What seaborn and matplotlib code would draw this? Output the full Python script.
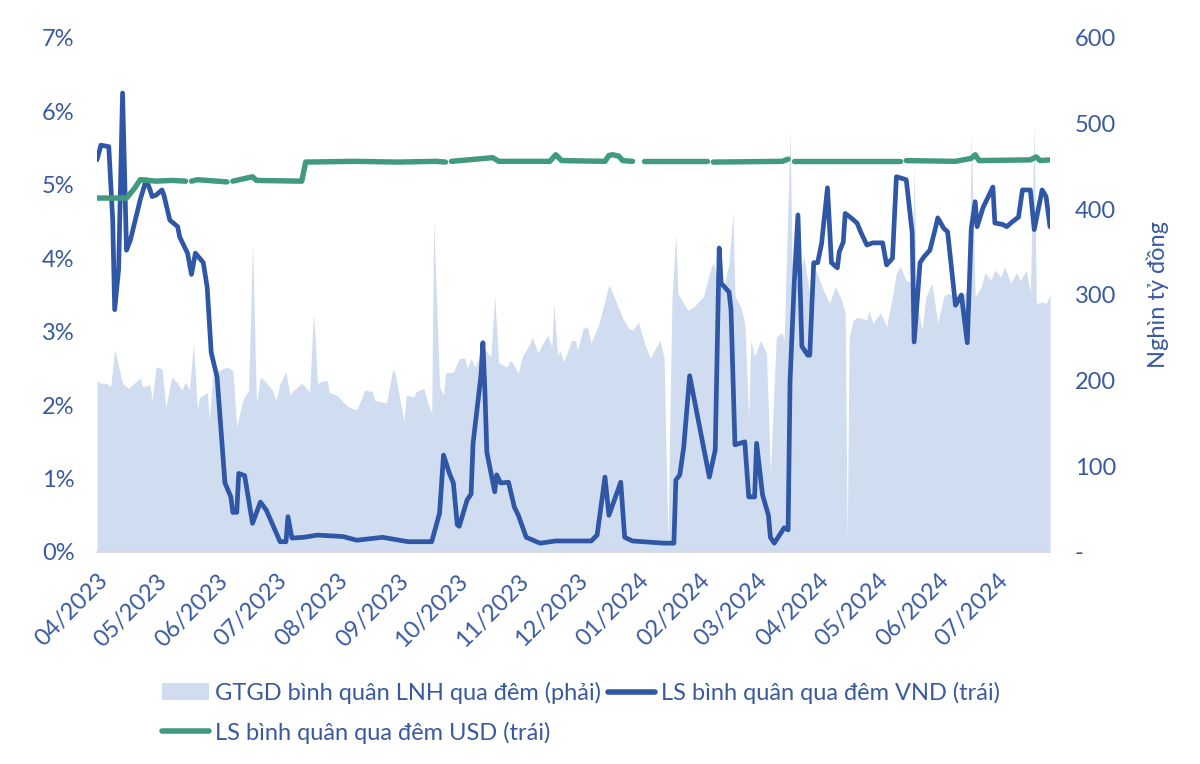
import matplotlib

matplotlib.use("Agg")
import matplotlib.dates as mdates
import matplotlib.pyplot as plt
import pandas as pd
import seaborn as sns
from matplotlib.lines import Line2D
from matplotlib.patches import Patch
from matplotlib.ticker import FuncFormatter, MultipleLocator

# --- LS bình quân qua đêm VND (%) ---
vnd_dates = [
    "2023-04-01", "2023-04-03", "2023-04-07", "2023-04-09", "2023-04-10", "2023-04-12",
    "2023-04-14", "2023-04-16", "2023-04-18", "2023-04-23", "2023-04-26", "2023-04-28",
    "2023-04-29", "2023-05-01", "2023-05-04", "2023-05-05", "2023-05-08", "2023-05-12",
    "2023-05-13", "2023-05-17", "2023-05-19", "2023-05-21", "2023-05-25", "2023-05-27",
    "2023-05-29", "2023-06-01", "2023-06-05", "2023-06-08", "2023-06-09", "2023-06-11",
    "2023-06-12", "2023-06-15", "2023-06-19", "2023-06-23", "2023-06-26", "2023-07-03",
    "2023-07-06", "2023-07-07", "2023-07-09", "2023-07-15", "2023-07-22", "2023-08-04",
    "2023-08-11", "2023-08-24", "2023-09-06", "2023-09-18", "2023-09-22", "2023-09-24",
    "2023-09-27", "2023-09-29", "2023-10-01", "2023-10-02", "2023-10-06", "2023-10-08",
    "2023-10-09", "2023-10-13", "2023-10-14", "2023-10-15", "2023-10-16", "2023-10-20",
    "2023-10-21", "2023-10-23", "2023-10-27", "2023-10-30", "2023-11-01", "2023-11-05",
    "2023-11-12", "2023-11-20", "2023-12-08", "2023-12-11", "2023-12-15", "2023-12-17",
    "2023-12-23", "2023-12-25", "2023-12-29", "2024-01-14", "2024-01-19", "2024-01-20",
    "2024-01-22", "2024-01-24", "2024-01-27", "2024-02-06", "2024-02-09", "2024-02-11",
    "2024-02-12", "2024-02-16", "2024-02-17", "2024-02-19", "2024-02-24", "2024-02-26",
    "2024-02-29", "2024-03-01", "2024-03-04", "2024-03-07", "2024-03-08", "2024-03-10",
    "2024-03-15", "2024-03-17", "2024-03-18", "2024-03-20", "2024-03-22", "2024-03-24",
    "2024-03-27", "2024-03-28", "2024-03-30", "2024-04-01", "2024-04-03", "2024-04-06",
    "2024-04-08", "2024-04-11", "2024-04-12", "2024-04-14", "2024-04-15", "2024-04-18",
    "2024-04-21", "2024-04-23", "2024-04-26", "2024-04-29", "2024-05-04", "2024-05-06",
    "2024-05-09", "2024-05-11", "2024-05-16", "2024-05-19", "2024-05-20", "2024-05-23",
    "2024-05-25", "2024-05-28", "2024-05-31", "2024-06-01", "2024-06-04", "2024-06-06",
    "2024-06-10", "2024-06-13", "2024-06-16", "2024-06-18", "2024-06-20", "2024-06-21",
    "2024-06-24", "2024-06-29", "2024-06-30", "2024-07-04", "2024-07-06", "2024-07-09",
    "2024-07-12", "2024-07-14", "2024-07-18", "2024-07-20", "2024-07-22", "2024-07-24",
    "2024-07-26", "2024-07-28",
]
vnd_rates = [
    5.34, 5.54, 5.52, 4.52, 3.30, 3.85,
    6.25, 4.11, 4.25, 4.80, 5.07, 4.93,
    4.84, 4.86, 4.93, 4.86, 4.52, 4.43,
    4.29, 4.07, 3.78, 4.07, 3.94, 3.60,
    2.72, 2.38, 0.94, 0.75, 0.54, 0.54,
    1.07, 1.04, 0.39, 0.68, 0.57, 0.14,
    0.14, 0.48, 0.19, 0.20, 0.23, 0.21,
    0.16, 0.20, 0.14, 0.14, 0.53, 1.32,
    1.07, 0.94, 0.37, 0.35, 0.71, 0.79,
    1.48, 2.40, 2.85, 2.20, 1.36, 0.82,
    1.05, 0.94, 0.95, 0.61, 0.50, 0.20,
    0.12, 0.15, 0.15, 0.23, 1.02, 0.50,
    0.95, 0.20, 0.15, 0.12, 0.12, 0.98,
    1.05, 1.43, 2.40, 1.02, 1.39, 4.14,
    3.66, 3.54, 3.30, 1.46, 1.50, 0.75,
    0.75, 1.48, 0.78, 0.50, 0.20, 0.12,
    0.33, 0.30, 2.34, 3.60, 4.59, 2.80,
    2.68, 2.68, 3.94, 3.94, 4.20, 4.96,
    3.94, 3.87, 4.09, 4.22, 4.61, 4.55,
    4.48, 4.35, 4.18, 4.21, 4.21, 3.91,
    4.00, 5.11, 5.07, 4.35, 2.86, 3.94,
    4.02, 4.11, 4.43, 4.55, 4.41, 4.36,
    3.36, 3.50, 2.85, 4.40, 4.77, 4.43,
    4.69, 4.97, 4.48, 4.46, 4.43, 4.50,
    4.56, 4.93, 4.93, 4.39, 4.66, 4.93,
    4.84, 4.43,
]

# --- LS bình quân qua đêm USD (%), None = ngày không có số liệu ---
usd_dates = [
    "2023-04-01", "2023-04-16", "2023-04-20", "2023-04-23", "2023-05-01", "2023-05-09",
    "2023-05-16", "2023-05-17", "2023-05-19", "2023-05-22", "2023-06-06", "2023-06-07",
    "2023-06-09", "2023-06-19", "2023-06-21", "2023-07-14", "2023-07-16", "2023-08-10",
    "2023-09-01", "2023-09-20", "2023-09-25", "2023-09-26", "2023-09-28", "2023-10-19",
    "2023-10-22", "2023-11-17", "2023-11-20", "2023-11-23", "2023-12-15", "2023-12-17",
    "2023-12-19", "2023-12-22", "2023-12-24", "2023-12-29", "2024-01-02", "2024-01-04",
    "2024-02-05", "2024-02-06", "2024-02-08", "2024-03-14", "2024-03-17", "2024-03-18",
    "2024-03-20", "2024-05-13", "2024-05-14", "2024-05-16", "2024-06-10", "2024-06-18",
    "2024-06-20", "2024-06-22", "2024-07-18", "2024-07-21", "2024-07-23", "2024-07-28",
]
usd_rates = [
    4.82, 4.82, 4.95, 5.07, 5.05, 5.06,
    5.05, None, 5.05, 5.07, 5.04, None,
    5.05, 5.11, 5.06, 5.05, 5.31, 5.32,
    5.31, 5.32, 5.31, None, 5.32, 5.37,
    5.32, 5.32, 5.41, 5.33, 5.32, 5.40,
    5.41, 5.39, 5.33, 5.32, None, 5.32,
    5.32, None, 5.31, 5.32, 5.35, None,
    5.32, 5.32, None, 5.33, 5.32, 5.36,
    5.41, 5.33, 5.34, 5.38, 5.33, 5.34,
]

# --- GTGD bình quân LNH qua đêm (nghìn tỷ đồng) ---
gtgd_dates = [
    "2023-04-01", "2023-04-03", "2023-04-06", "2023-04-08", "2023-04-10", "2023-04-14",
    "2023-04-17", "2023-04-23", "2023-04-24", "2023-04-28", "2023-04-29", "2023-05-01",
    "2023-05-04", "2023-05-06", "2023-05-09", "2023-05-12", "2023-05-14", "2023-05-16",
    "2023-05-18", "2023-05-20", "2023-05-22", "2023-05-23", "2023-05-27", "2023-05-28",
    "2023-05-30", "2023-06-02", "2023-06-06", "2023-06-09", "2023-06-11", "2023-06-14",
    "2023-06-17", "2023-06-19", "2023-06-21", "2023-06-23", "2023-06-25", "2023-06-29",
    "2023-07-01", "2023-07-03", "2023-07-06", "2023-07-08", "2023-07-09", "2023-07-14",
    "2023-07-18", "2023-07-20", "2023-07-22", "2023-07-25", "2023-07-27", "2023-07-28",
    "2023-08-01", "2023-08-04", "2023-08-07", "2023-08-11", "2023-08-14", "2023-08-15",
    "2023-08-19", "2023-08-20", "2023-08-24", "2023-08-26", "2023-08-29", "2023-08-30",
    "2023-09-01", "2023-09-04", "2023-09-05", "2023-09-09", "2023-09-10", "2023-09-14",
    "2023-09-16", "2023-09-18", "2023-09-19", "2023-09-22", "2023-09-24", "2023-09-25",
    "2023-09-29", "2023-10-02", "2023-10-05", "2023-10-06", "2023-10-08", "2023-10-10",
    "2023-10-13", "2023-10-15", "2023-10-18", "2023-10-20", "2023-10-22", "2023-10-26",
    "2023-10-28", "2023-10-29", "2023-11-01", "2023-11-03", "2023-11-07", "2023-11-08",
    "2023-11-11", "2023-11-13", "2023-11-16", "2023-11-18", "2023-11-19", "2023-11-21",
    "2023-11-22", "2023-11-24", "2023-11-28", "2023-11-30", "2023-12-01", "2023-12-04",
    "2023-12-06", "2023-12-08", "2023-12-12", "2023-12-17", "2023-12-21", "2023-12-24",
    "2023-12-27", "2023-12-29", "2024-01-01", "2024-01-04", "2024-01-07", "2024-01-10",
    "2024-01-12", "2024-01-14", "2024-01-16", "2024-01-18", "2024-01-20", "2024-01-21",
    "2024-01-26", "2024-01-29", "2024-02-03", "2024-02-07", "2024-02-08", "2024-02-10",
    "2024-02-13", "2024-02-16", "2024-02-18", "2024-02-19", "2024-02-22", "2024-02-24",
    "2024-02-26", "2024-02-27", "2024-02-29", "2024-03-03", "2024-03-06", "2024-03-08",
    "2024-03-11", "2024-03-14", "2024-03-15", "2024-03-18", "2024-03-19", "2024-03-21",
    "2024-03-25", "2024-03-28", "2024-03-31", "2024-04-04", "2024-04-07", "2024-04-10",
    "2024-04-13", "2024-04-15", "2024-04-16", "2024-04-17", "2024-04-19", "2024-04-21",
    "2024-04-26", "2024-04-27", "2024-04-29", "2024-05-03", "2024-05-06", "2024-05-09",
    "2024-05-11", "2024-05-13", "2024-05-16", "2024-05-19", "2024-05-20", "2024-05-21",
    "2024-05-24", "2024-05-26", "2024-05-29", "2024-06-01", "2024-06-04", "2024-06-06",
    "2024-06-09", "2024-06-12", "2024-06-17", "2024-06-18", "2024-06-20", "2024-06-23",
    "2024-06-25", "2024-06-28", "2024-06-30", "2024-07-03", "2024-07-05", "2024-07-08",
    "2024-07-11", "2024-07-13", "2024-07-16", "2024-07-18", "2024-07-20", "2024-07-21",
    "2024-07-24", "2024-07-26", "2024-07-28",
]
gtgd_values = [
    200, 197, 197, 193, 236, 197,
    191, 203, 193, 195, 177, 216,
    214, 169, 204, 197, 189, 198,
    189, 244, 166, 180, 186, 154,
    209, 212, 216, 212, 146, 177,
    189, 360, 174, 204, 200, 189,
    177, 197, 210, 183, 187, 197,
    187, 279, 197, 200, 200, 186,
    183, 175, 169, 166, 183, 189,
    187, 177, 175, 174, 210, 212,
    189, 152, 183, 181, 187, 191,
    174, 162, 387, 193, 183, 209,
    210, 226, 226, 214, 226, 216,
    232, 236, 228, 298, 221, 216,
    224, 221, 209, 228, 244, 251,
    232, 242, 253, 239, 290, 228,
    236, 222, 247, 247, 236, 261,
    263, 244, 267, 312, 290, 273,
    261, 259, 268, 244, 226, 239,
    247, 226, 14, 294, 372, 302,
    282, 286, 298, 333, 337, 321,
    306, 337, 396, 298, 286, 267,
    154, 247, 228, 247, 232, 92,
    251, 256, 247, 492, 340, 310,
    345, 300, 330, 305, 290, 310,
    295, 280, 10, 250, 270, 274,
    271, 282, 267, 279, 263, 298,
    326, 333, 317, 314, 454, 298,
    259, 298, 314, 267, 298, 302,
    300, 297, 306, 489, 298, 309,
    326, 317, 329, 321, 333, 314,
    326, 317, 329, 302, 500, 290,
    292, 290, 300,
]

AREA_COLOR = "#D0DCF0"
VND_COLOR = "#2F57A6"
USD_COLOR = "#419A80"
TEXT_COLOR = "#3A5AA0"
AXIS_COLOR = "#D9D9D9"
FS = 17

sns.set_theme(style="white")
plt.rcParams["font.family"] = ["Lato", "DejaVu Sans"]

vnd = pd.DataFrame({"date": pd.to_datetime(vnd_dates), "rate": vnd_rates})
usd = pd.DataFrame({"date": pd.to_datetime(usd_dates),
                    "rate": pd.to_numeric(pd.Series(usd_rates, dtype="object"))})
usd["seg"] = usd["rate"].isna().cumsum()
usd = usd.dropna()
gtgd = pd.DataFrame({"date": pd.to_datetime(gtgd_dates), "value": gtgd_values})

fig = plt.figure(figsize=(12, 7.64), dpi=100)
ax = fig.add_axes([0.0808, 0.2775, 0.7942, 0.6728])
ax2 = ax.twinx()
ax.set_zorder(ax2.get_zorder() + 1)
ax.patch.set_visible(False)

# vùng GTGD (trục phải) nằm dưới các đường lãi suất
ax2.fill_between(gtgd["date"], gtgd["value"], color=AREA_COLOR, lw=0)
sns.lineplot(data=vnd, x="date", y="rate", ax=ax, color=VND_COLOR, lw=3.4,
             estimator=None, sort=False, legend=False,
             solid_joinstyle="round", solid_capstyle="round")
sns.lineplot(data=usd, x="date", y="rate", units="seg", ax=ax, color=USD_COLOR, lw=3.9,
             estimator=None, sort=False, legend=False,
             solid_joinstyle="round", solid_capstyle="round")

ax.set_xlim(pd.Timestamp("2023-04-01"), pd.Timestamp("2024-07-28"))
ax.set_ylim(0, 7)
ax2.set_ylim(0, 600)
ax.yaxis.set_major_locator(MultipleLocator(1))
ax.yaxis.set_major_formatter(FuncFormatter(lambda v, _: f"{v:.0f}%"))
ax2.yaxis.set_major_locator(MultipleLocator(100))
ax2.yaxis.set_major_formatter(FuncFormatter(lambda v, _: "-" if v == 0 else f"{v:.0f}"))
ax.xaxis.set_major_locator(mdates.MonthLocator())
ax.xaxis.set_major_formatter(mdates.DateFormatter("%m/%Y"))

ax.set_xlabel("")
ax.set_ylabel("")
ax2.set_ylabel("Nghìn tỷ đồng", color=TEXT_COLOR, fontsize=FS, labelpad=22)

ax.tick_params(axis="x", direction="out", length=5, width=1.2, color=AXIS_COLOR,
               pad=8, labelsize=FS, labelcolor=TEXT_COLOR)
plt.setp(ax.get_xticklabels(), rotation=45, ha="right", rotation_mode="anchor")
ax.tick_params(axis="y", length=0, pad=16, labelsize=FS, labelcolor=TEXT_COLOR)
ax2.tick_params(axis="y", length=0, pad=18, labelsize=FS, labelcolor=TEXT_COLOR)

for name, sp in ax.spines.items():
    sp.set_visible(name == "bottom")
ax.spines["bottom"].set_color(AXIS_COLOR)
ax.spines["bottom"].set_linewidth(1.2)
for sp in ax2.spines.values():
    sp.set_visible(False)

handles = [
    Patch(facecolor=AREA_COLOR, edgecolor="none", label="GTGD bình quân LNH qua đêm (phải)"),
    Line2D([], [], color=USD_COLOR, lw=4, solid_capstyle="round", label="LS bình quân qua đêm USD (trái)"),
    Line2D([], [], color=VND_COLOR, lw=4, solid_capstyle="round", label="LS bình quân qua đêm VND (trái)"),
]
fig.legend(handles=handles, ncol=2, loc="center", bbox_to_anchor=(0.484, 0.067),
           frameon=False, fontsize=FS, handlelength=2.0, handletextpad=0.25,
           columnspacing=0.3, labelspacing=0.75, labelcolor=TEXT_COLOR, borderpad=0)

fig.savefig("out.png", dpi=100)
plt.close(fig)
